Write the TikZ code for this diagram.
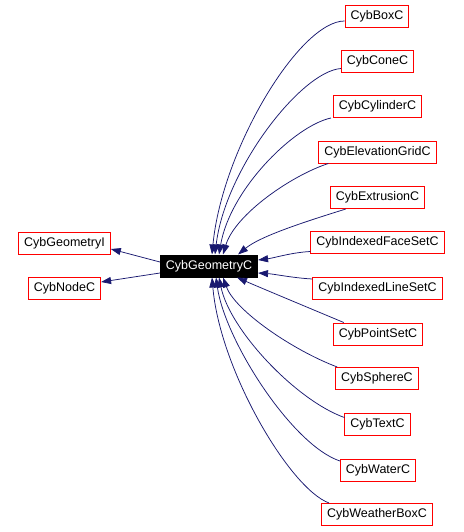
\documentclass[tikz,border=0pt]{standalone}
\usepackage{fontspec}
\setmainfont{Liberation Sans}
\usetikzlibrary{arrows.meta}
\definecolor{edgeblue}{HTML}{191970}

\tikzset{
  cls/.style={draw=red, line width=1pt, minimum height=22pt,
    inner xsep=5.5pt, inner ysep=0pt, font=\fontsize{12.5}{15}\selectfont},
  curcls/.style={cls, draw=black, fill=black, text=white},
  inh/.style={draw=edgeblue, line width=0.75pt,
    -{Triangle[length=10pt,width=7pt,fill=edgeblue]}},
}

\begin{document}
\begin{tikzpicture}[x=1pt, y=-1pt]
  \useasboundingbox (0,0) rectangle (463,532);

  % the class itself and its bases
  \node[curcls] (geo)   at (209,266) {CybGeometryC};
  \node[cls]    (geoI)  at (64.5,243) {CybGeometryI};
  \node[cls]    (nodeC) at (64.5,288) {CybNodeC};

  % derived classes
  \node[cls] (box)   at (377,16.5)  {CybBoxC};
  \node[cls] (cone)  at (377.5,61.5) {CybConeC};
  \node[cls] (cyl)   at (377.5,106.5) {CybCylinderC};
  \node[cls] (elev)  at (377.5,152) {CybElevationGridC};
  \node[cls] (extr)  at (377.5,197.5) {CybExtrusionC};
  \node[cls] (ifs)   at (377.5,242.5) {CybIndexedFaceSetC};
  \node[cls] (ils)   at (377.5,288) {CybIndexedLineSetC};
  \node[cls] (pts)   at (378,334) {CybPointSetC};
  \node[cls] (sph)   at (377,378.5) {CybSphereC};
  \node[cls] (txt)   at (377.5,424.5) {CybTextC};
  \node[cls] (water) at (378,470) {CybWaterC};
  \node[cls] (wbox)  at (377,514.5) {CybWeatherBoxC};

  % inheritance to the bases
  \draw[inh] ([yshift=4pt]geo.west) -- ([yshift=-6pt]geoI.east);
  \draw[inh] ([yshift=-7pt]geo.west) -- ([yshift=6pt]nodeC.east);

  % inheritance from the derived classes
  \draw[inh] ([yshift=-4.5pt]box.west) .. controls +(-45,0) and +(10,-105) .. ([xshift=3pt]geo.north);
  \draw[inh] ([yshift=-7pt]cone.west) .. controls +(-40,3) and +(10,-85) .. ([xshift=6pt]geo.north);
  \draw[inh] ([xshift=-2pt]cyl.south west) .. controls +(-37,8) and +(11,-65) .. ([xshift=10pt]geo.north);
  \draw[inh] ([xshift=10pt]elev.south west) .. controls +(-37,12) and +(12,-40) .. ([xshift=14pt]geo.north);
  \draw[inh] ([xshift=16pt]extr.south west) .. controls +(-45,14) and +(22,-18) .. ([xshift=29pt]geo.north);
  \draw[inh] ([yshift=-9pt]ifs.west) .. controls +(-19,1) and +(16,-2) .. ([yshift=6pt]geo.east);
  \draw[inh] ([yshift=9pt]ils.west) .. controls +(-19,-1) and +(16,1) .. ([yshift=-7pt]geo.east);
  \draw[inh] ([xshift=11pt]pts.north west) .. controls +(-43,-18) and +(23,10) .. ([xshift=28pt]geo.south);
  \draw[inh] ([xshift=2pt]sph.north west) .. controls +(-45,-17) and +(12,33) .. ([xshift=14pt]geo.south);
  \draw[inh] ([yshift=7pt]txt.west) .. controls +(-48,-17) and +(11,53) .. ([xshift=10pt]geo.south);
  \draw[inh] ([yshift=9pt]water.west) .. controls +(-48,-16) and +(9,63) .. ([xshift=7pt]geo.south);
  \draw[inh] ([xshift=8pt]wbox.north west) .. controls +(-39,-14) and +(8,93) .. ([xshift=3pt]geo.south);

\end{tikzpicture}
\end{document}
